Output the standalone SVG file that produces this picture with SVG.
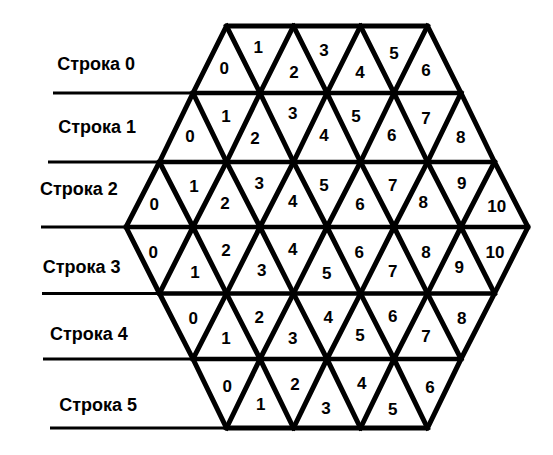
<svg xmlns="http://www.w3.org/2000/svg" width="553" height="455" viewBox="0 0 553 455">
<style>
.lbl{font-family:"Liberation Sans",Arial,sans-serif;font-weight:bold;font-size:18px;fill:#000}
.num{font-family:"Liberation Sans",Arial,sans-serif;font-weight:bold;font-size:17px;fill:#000;text-anchor:middle}
.rule{stroke:#000;stroke-width:3;fill:none}
.edge{stroke:#000;stroke-width:5;fill:none;stroke-linejoin:miter;stroke-linecap:square}
.hedge{stroke:#000;stroke-width:4.5;fill:none;stroke-linecap:square}
</style>
<rect width="553" height="455" fill="#fff"/>
<g id="row-rules">
<line class="rule" x1="53" y1="93" x2="193" y2="93"/>
<line class="rule" x1="48" y1="162" x2="159.5" y2="162"/>
<line class="rule" x1="41" y1="227" x2="126" y2="227"/>
<line class="rule" x1="42" y1="293.5" x2="159.5" y2="293.5"/>
<line class="rule" x1="43" y1="359" x2="193" y2="359"/>
<line class="rule" x1="50" y1="428" x2="226.5" y2="428"/>
</g>
<g id="connectors">
<polygon class="edge" points="226.5,26 427.5,26 461,93 494.5,162 528,227 494.5,293.5 461,359 427.5,428 226.5,428 193,359 159.5,293.5 126,227 159.5,162 193,93"/>
<line class="hedge" x1="193" y1="93" x2="461" y2="93"/>
<line class="hedge" x1="159.5" y1="162" x2="494.5" y2="162"/>
<line class="hedge" x1="126" y1="227" x2="528" y2="227"/>
<line class="hedge" x1="159.5" y1="293.5" x2="494.5" y2="293.5"/>
<line class="hedge" x1="193" y1="359" x2="461" y2="359"/>
<polyline class="edge" points="159.5,162 193,227 226.5,293.5 260,359 293.5,428"/>
<polyline class="edge" points="193,93 226.5,162 260,227 293.5,293.5 327,359 360.5,428"/>
<polyline class="edge" points="226.5,26 260,93 293.5,162 327,227 360.5,293.5 394,359 427.5,428"/>
<polyline class="edge" points="293.5,26 327,93 360.5,162 394,227 427.5,293.5 461,359"/>
<polyline class="edge" points="360.5,26 394,93 427.5,162 461,227 494.5,293.5"/>
<polyline class="edge" points="293.5,26 260,93 226.5,162 193,227 159.5,293.5"/>
<polyline class="edge" points="360.5,26 327,93 293.5,162 260,227 226.5,293.5 193,359"/>
<polyline class="edge" points="427.5,26 394,93 360.5,162 327,227 293.5,293.5 260,359 226.5,428"/>
<polyline class="edge" points="461,93 427.5,162 394,227 360.5,293.5 327,359 293.5,428"/>
<polyline class="edge" points="494.5,162 461,227 427.5,293.5 394,359 360.5,428"/>
</g>
<g id="labels">
<text class="lbl" x="57.3" y="70">Строка 0</text>
<text class="lbl" x="58.3" y="132.7">Строка 1</text>
<text class="lbl" x="40" y="195">Строка 2</text>
<text class="lbl" x="42.7" y="273.3">Строка 3</text>
<text class="lbl" x="50" y="340">Строка 4</text>
<text class="lbl" x="59.3" y="411">Строка 5</text>
</g>
<g id="row0">
<text class="num" x="224.3" y="74.3">0</text>
<text class="num" x="258.3" y="52.7">1</text>
<text class="num" x="294" y="77.7">2</text>
<text class="num" x="324" y="56">3</text>
<text class="num" x="360" y="77.7">4</text>
<text class="num" x="394" y="58.7">5</text>
<text class="num" x="426" y="76">6</text>
</g>
<g id="row1">
<text class="num" x="190" y="142">0</text>
<text class="num" x="226" y="122">1</text>
<text class="num" x="255" y="143.7">2</text>
<text class="num" x="292.7" y="119.3">3</text>
<text class="num" x="324" y="141">4</text>
<text class="num" x="356" y="122">5</text>
<text class="num" x="391.7" y="141">6</text>
<text class="num" x="426" y="124.3">7</text>
<text class="num" x="460.7" y="142.7">8</text>
</g>
<g id="row2">
<text class="num" x="154.3" y="210.3">0</text>
<text class="num" x="194" y="192">1</text>
<text class="num" x="225" y="209.3">2</text>
<text class="num" x="259.3" y="189.3">3</text>
<text class="num" x="292.7" y="207">4</text>
<text class="num" x="324" y="191">5</text>
<text class="num" x="360" y="210">6</text>
<text class="num" x="392.7" y="191">7</text>
<text class="num" x="423.3" y="207.7">8</text>
<text class="num" x="461.7" y="189.3">9</text>
<text class="num" x="496.7" y="212">10</text>
</g>
<g id="row3">
<text class="num" x="153.3" y="257.7">0</text>
<text class="num" x="195" y="277.7">1</text>
<text class="num" x="226" y="256">2</text>
<text class="num" x="261.7" y="276">3</text>
<text class="num" x="292.7" y="255.3">4</text>
<text class="num" x="326.7" y="279.3">5</text>
<text class="num" x="359.3" y="258.3">6</text>
<text class="num" x="392.7" y="276.7">7</text>
<text class="num" x="426" y="258.3">8</text>
<text class="num" x="459.3" y="273.3">9</text>
<text class="num" x="495" y="257.7">10</text>
</g>
<g id="row4">
<text class="num" x="193.3" y="323.7">0</text>
<text class="num" x="226" y="343.7">1</text>
<text class="num" x="259.3" y="322.7">2</text>
<text class="num" x="292.7" y="344.3">3</text>
<text class="num" x="328.3" y="322.7">4</text>
<text class="num" x="360" y="341">5</text>
<text class="num" x="392.7" y="322">6</text>
<text class="num" x="426" y="342">7</text>
<text class="num" x="461.7" y="324.3">8</text>
</g>
<g id="row5">
<text class="num" x="227.3" y="391.7">0</text>
<text class="num" x="260.7" y="410.3">1</text>
<text class="num" x="295" y="390.3">2</text>
<text class="num" x="326" y="413.7">3</text>
<text class="num" x="361.7" y="389.3">4</text>
<text class="num" x="392.7" y="415">5</text>
<text class="num" x="430" y="392.7">6</text>
</g>
</svg>
